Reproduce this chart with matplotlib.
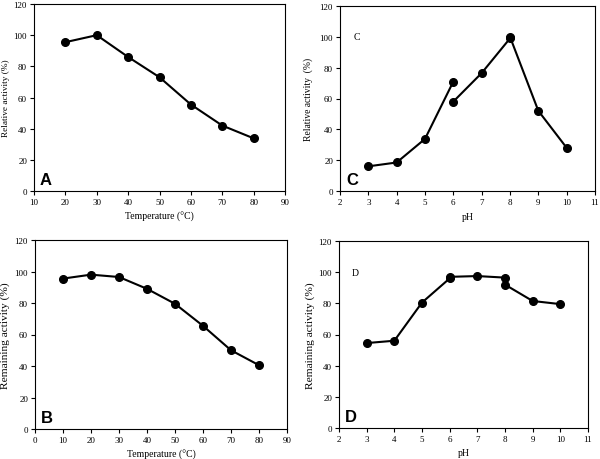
import numpy as np
import matplotlib
matplotlib.use('Agg')
import matplotlib.pyplot as plt

plt.rcParams['font.family'] = 'Liberation Serif'

# A: temperature vs relative activity
temp_a = [20, 30, 40, 50, 60, 70, 80]
act_a = [95.5, 100, 86, 73, 55.5, 42, 33.8]

# B: temperature vs remaining activity
temp_b = [10, 20, 30, 40, 50, 60, 70, 80]
act_b = [95.5, 98, 96.5, 89, 79.5, 65.5, 50, 40.5]

# C: pH vs relative activity (two buffer segments)
ph_c1 = [3, 4, 5, 6]
act_c1 = [16, 18.5, 33.8, 71]
ph_c2 = [6, 7, 8, 8, 9, 10]
act_c2 = [58, 76.5, 99, 100, 52, 28]

# D: pH vs remaining activity
ph_d = [3, 4, 5, 6, 6, 7, 8, 8, 9, 10]
act_d = [54.5, 56, 80.5, 96, 97, 97.5, 96.5, 92, 81.5, 79.5]

W, H = 600, 460
fig = plt.figure(figsize=(6, 4.6), dpi=100)


def make_ax(l, r, t, b):
    return fig.add_axes([l / W, 1 - b / H, (r - l) / W, (b - t) / H])


ax_a = make_ax(34, 285, 5, 192)
ax_c = make_ax(340, 595, 7, 192)
ax_b = make_ax(35, 287, 241, 430)
ax_d = make_ax(339, 588, 242, 429)

line_kw = dict(color='black', lw=1.5, marker='o', ms=5.5)

ax_a.plot(temp_a, act_a, **line_kw)
ax_b.plot(temp_b, act_b, **line_kw)
ax_c.plot(ph_c1, act_c1, **line_kw)
ax_c.plot(ph_c2, act_c2, **line_kw)
ax_d.plot(ph_d, act_d, **line_kw)

ax_a.set_xlim(10, 90)
ax_a.set_xticks(np.arange(10, 91, 10))
ax_b.set_xlim(0, 90)
ax_b.set_xticks(np.arange(0, 91, 10))
for ax in [ax_a, ax_b]:
    ax.set_xlabel('Temperature (°C)', fontsize=7, labelpad=4)
for ax in [ax_c, ax_d]:
    ax.set_xlim(2, 11)
    ax.set_xticks(np.arange(2, 12, 1))
    ax.set_xlabel('pH', fontsize=7, labelpad=4)

for ax in [ax_a, ax_b, ax_c, ax_d]:
    ax.set_ylim(0, 120)
    ax.set_yticks(np.arange(0, 121, 20))
    ax.tick_params(labelsize=6.5, length=3, width=0.8, pad=2)
    for s in ax.spines.values():
        s.set_linewidth(0.8)

ax_a.set_ylabel('Relative activity (%)', fontsize=6.7)
ax_c.set_ylabel('Relative activity  (%)', fontsize=6.9)
ax_b.set_ylabel('Remaining activity (%)', fontsize=8.2)
ax_d.set_ylabel('Remaining activity (%)', fontsize=8.2)
ax_a.yaxis.set_label_coords(-0.096, 0.5)
ax_c.yaxis.set_label_coords(-0.106, 0.5)
ax_b.yaxis.set_label_coords(-0.099, 0.5)
ax_d.yaxis.set_label_coords(-0.096, 0.5)

for ax, lab in [(ax_a, 'A'), (ax_b, 'B'), (ax_c, 'C'), (ax_d, 'D')]:
    ax.text(0.024, 0.02, lab, transform=ax.transAxes, fontsize=12,
            fontweight='bold', family='Liberation Sans', va='bottom', ha='left')

ax_c.text(2.6, 100, 'C', fontsize=7, ha='center', va='center')
ax_d.text(2.6, 100, 'D', fontsize=7, ha='center', va='center')

fig.savefig('out.png', dpi=100)
